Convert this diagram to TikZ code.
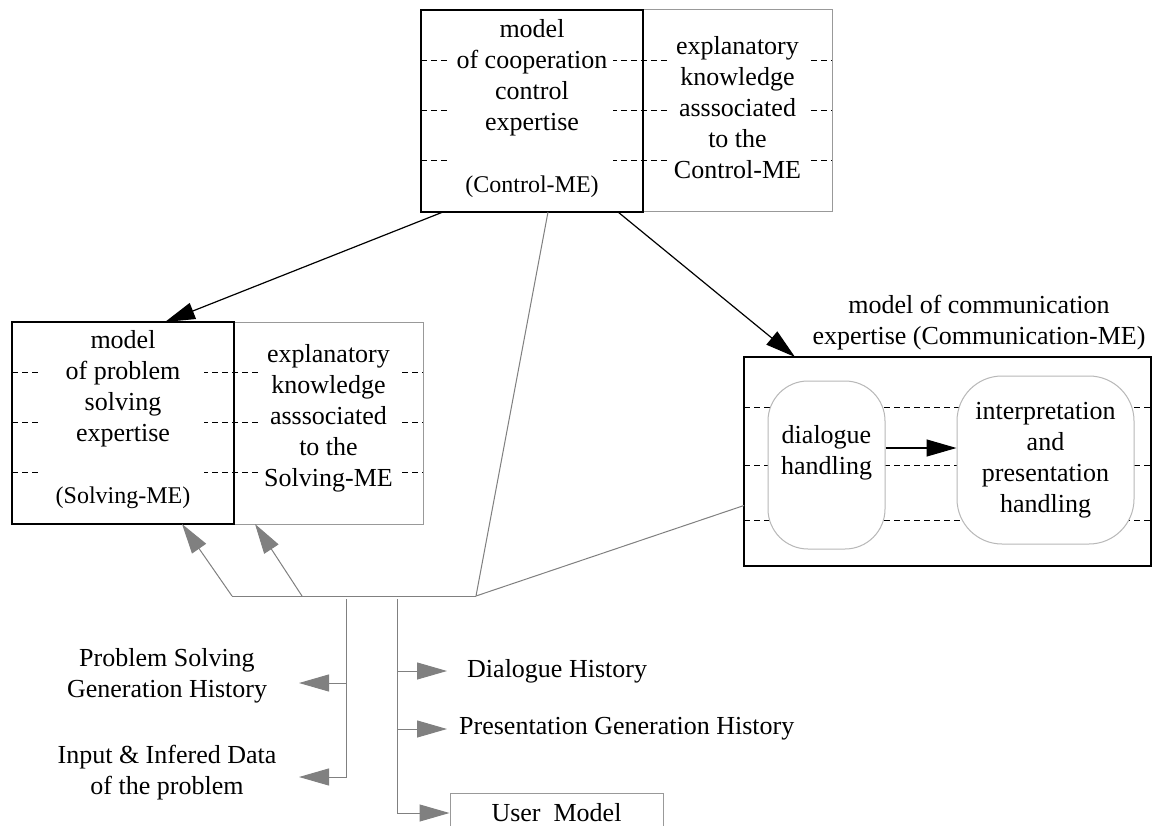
\documentclass[tikz,border=0pt]{standalone}
\usepackage{fontspec}
\setmainfont{Liberation Serif}
\usepackage{tikz}
\usetikzlibrary{arrows.meta, positioning, calc}
\definecolor{linegray}{gray}{0.5}
\definecolor{boxgray}{gray}{0.6}
\definecolor{roundgray}{gray}{0.72}

\begin{document}
\begin{tikzpicture}[
    x=1pt, y=-1pt, >={Triangle[length=30pt, width=17pt]},
    % --- STYLES ---
    me_box/.style={rectangle, draw=black, line width=1.3pt, minimum width=222pt, minimum height=202pt, inner sep=0pt, outer sep=0pt, anchor=north west},
    expl_box/.style={rectangle, draw=boxgray, line width=1pt, minimum width=189pt, minimum height=202pt, inner sep=0pt, outer sep=0pt, anchor=north west},
    comm_box/.style={rectangle, draw=black, line width=1.3pt, minimum width=407pt, minimum height=209pt, inner sep=0pt, outer sep=0pt, anchor=north west},
    handler/.style={rectangle, draw=roundgray, line width=1pt, fill=white, align=center, minimum height=168pt, inner sep=0pt, font=\fontsize{26}{31}\selectfont},
    me_text/.style={fill=white, align=center, minimum width=162pt, inner sep=4pt, font=\fontsize{26}{31}\selectfont},
    expl_text/.style={fill=white, align=center, minimum width=138pt, inner sep=4pt, font=\fontsize{26}{31}\selectfont},
    user_box/.style={rectangle, draw=boxgray, line width=1pt, minimum width=213pt, minimum height=40pt, inner sep=0pt, font=\fontsize{26}{31}\selectfont},
    % Flow Styles
    dash_line/.style={black, line width=0.8pt, dash pattern=on 6pt off 4pt},
    black_flow/.style={->, black, line width=1.2pt},
    gray_flow/.style={->, linegray, line width=1pt},
    gray_link/.style={linegray, line width=1pt},
    label_text/.style={font=\fontsize{26}{31}\selectfont, inner sep=2pt}
]
\useasboundingbox (0,0) rectangle (1153,826);
\fill[white] (0,0) rectangle (1153,826);
\clip (0,0) rectangle (1153,826);

% --- 1. CONTROL-ME (top) ---
\node[expl_box] (ctrlx) at (643,10) {};
\node[me_box, left=0pt of ctrlx] (ctrl) {};
\foreach \d in {50,100,150} {
    \draw[dash_line] ($(ctrl.north west)+(0,\d)$) -- ($(ctrlx.north east)+(0,\d)$);
}
\node[me_text] (ctrlt) at ([yshift=2pt]ctrl.center) {model\\of cooperation\\control\\expertise\\[31pt]{\fontsize{24}{29}\selectfont(Control-ME)}};
\node[expl_text] (ctrlxt) at ([yshift=3pt]ctrlx.center) {explanatory\\knowledge\\asssociated\\to the\\Control-ME};

% --- 2. SOLVING-ME (left) ---
\node[expl_box] (solvx) at (234,322) {};
\node[me_box, left=0pt of solvx] (solv) {};
\foreach \d in {50,100,150} {
    \draw[dash_line] ($(solv.north west)+(0,\d)$) -- ($(solvx.north east)+(0,\d)$);
}
\node[me_text] (solvt) at ([yshift=3pt]solv.center) {model\\of problem\\solving\\expertise\\[31pt]{\fontsize{24}{29}\selectfont(Solving-ME)}};
\node[expl_text] (solvxt) at ([yshift=5pt]solvx.center) {explanatory\\knowledge\\asssociated\\to the\\Solving-ME};

% --- 3. COMMUNICATION-ME (right) ---
\node[comm_box] (comm) at (744,357) {};
\foreach \d in {50,108,163} {
    \draw[dash_line] ($(comm.north west)+(0,\d)$) -- ($(comm.north east)+(0,\d)$);
}
\node[handler, minimum width=117pt, rounded corners=40pt] (dlg) at (826.5,465) {dialogue\\handling\\~};
\node[handler, minimum width=177pt, rounded corners=45pt] (itp) at (1045.5,460) {interpretation\\and\\presentation\\handling};
\draw[black_flow] ($(dlg.east)+(0,-17)$) -- ($(dlg.east -| itp.west)+(0,-17)$);
\node[label_text, align=center] (commt) at (979,323) {model of communication\\expertise (Communication-ME)};

% --- 4. CONTROL LINKS ---
\draw[black_flow] ([xshift=22pt]ctrl.south west) -- ([xshift=153pt]solv.north west);
\draw[black_flow] ([xshift=197pt]ctrl.south west) -- ([xshift=51pt]comm.north west);

% --- 5. SHARED DATA (gray) ---
\coordinate (hub) at (476,596);
\coordinate (hubL) at (232,596);
\coordinate (fork) at (302,596);
\coordinate (trunkL) at (346,599);
\coordinate (trunkR) at (397,599);
\coordinate (tipL) at (299,0);
\coordinate (tipR) at (447,0);

\draw[gray_link] ([xshift=127pt]ctrl.south west) -- (hub);
\draw[gray_link] ([yshift=-44pt]comm.west) -- (hub);
\draw[gray_link] (hubL) -- (hub);
\draw[gray_flow] (hubL) -- ([xshift=170pt]solv.south west);
\draw[gray_flow] (fork) -- ([xshift=21pt]solvx.south west);

\node[label_text, align=center] (psgh) at (167,676) {Problem Solving\\Generation History};
\node[label_text, align=center] (idata) at (167,773) {Input \& Infered Data\\of the problem};
\node[label_text, anchor=west] (dhist) at (465,671) {Dialogue History};
\node[label_text, anchor=west] (phist) at (457,729) {Presentation Generation History};
\node[user_box] (user) at (556.5,813) {User~~Model};

\draw[gray_flow] (trunkL) |- ($(idata.east -| tipL)+(0,4)$);
\draw[gray_flow] ($(psgh.east -| trunkL)+(0,7)$) -- ($(psgh.east -| tipL)+(0,7)$);
\draw[gray_flow] (trunkR) |- (user.west);
\draw[gray_flow] (dhist.west -| trunkR) -- (dhist.west -| tipR);
\draw[gray_flow] (phist.west -| trunkR) -- (phist.west -| tipR);

\end{tikzpicture}
\end{document}
